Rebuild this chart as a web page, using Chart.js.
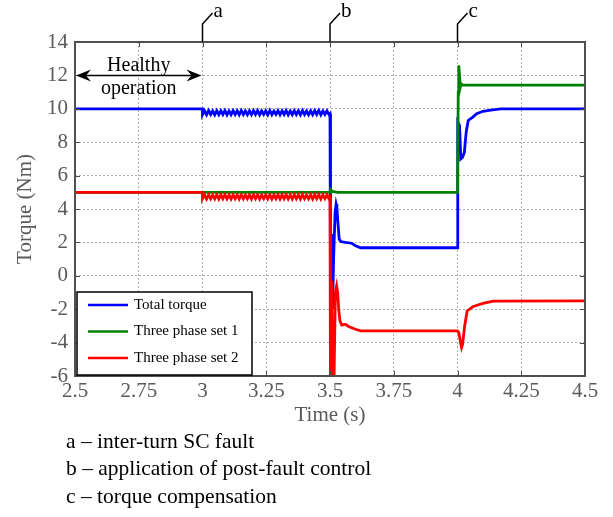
<!DOCTYPE html>
<html>
<head>
<meta charset="utf-8">
<script src="https://cdn.jsdelivr.net/npm/chart.js@4.4.1/dist/chart.umd.min.js"></script>
<style>
  html, body { margin: 0; background: #fff; }
  #wrap { width: 613px; height: 517px; }
</style>
</head>
<body>
<div id="wrap"><canvas id="torqueChart" width="613" height="517"></canvas></div>
<script>
// tick labels
const xTicks = [2.5, 2.75, 3, 3.25, 3.5, 3.75, 4, 4.25, 4.5];
const yTicks = [-6, -4, -2, 0, 2, 4, 6, 8, 10, 12, 14];

// events marked on top of the plot
const eventLabels = ["a", "b", "c"];
const eventTimes = [3, 3.5, 4];
const notes = [
  "a \u2013 inter-turn SC fault",
  "b \u2013 application of post-fault control",
  "c \u2013 torque compensation",
];
const seriesNames = ["Total torque", "Three phase set 1", "Three phase set 2"];

// ripple during the fault, 3.0 s .. 3.5 s
const rippleTime = [3.000,3.008,3.016,3.024,3.032,3.040,3.048,3.056,3.064,3.072,3.080,3.088,3.096,3.104,3.112,3.120,3.128,3.136,3.144,3.152,3.160,3.168,3.176,3.184,3.192,3.200,3.208,3.216,3.224,3.232,3.240,3.248,3.256,3.264,3.272,3.280,3.288,3.296,3.304,3.312,3.320,3.328,3.336,3.344,3.352,3.360,3.368,3.376,3.384,3.392,3.400,3.408,3.416,3.424,3.432,3.440,3.448,3.456,3.464,3.472,3.480,3.488,3.496];
const totalRipple = [9.65,9.88,9.64,9.90,9.66,9.87,9.64,9.89,9.65,9.88,9.66,9.90,9.64,9.87,9.65,9.89,9.66,9.88,9.64,9.90,9.66,9.87,9.64,9.88,9.65,9.89,9.66,9.90,9.64,9.87,9.66,9.88,9.64,9.90,9.65,9.87,9.66,9.89,9.64,9.88,9.66,9.90,9.64,9.87,9.65,9.89,9.66,9.88,9.64,9.90,9.66,9.87,9.64,9.88,9.65,9.89,9.66,9.90,9.64,9.87,9.66,9.88,9.65];
const set2Ripple = [4.62,4.85,4.60,4.86,4.62,4.84,4.61,4.86,4.60,4.85,4.62,4.86,4.61,4.84,4.60,4.86,4.62,4.85,4.60,4.86,4.62,4.84,4.61,4.85,4.60,4.86,4.62,4.86,4.60,4.84,4.62,4.85,4.61,4.86,4.60,4.84,4.62,4.86,4.60,4.85,4.62,4.86,4.61,4.84,4.60,4.86,4.62,4.85,4.60,4.86,4.62,4.84,4.61,4.85,4.60,4.86,4.62,4.86,4.60,4.84,4.62,4.85,4.61];

// total torque
const totalPreT = [2.5, 3.0];
const totalPre = [10, 10];
const totalPostT = [3.500,3.501,3.503,3.507,3.510,3.514,3.520,3.524,3.527,3.531,3.536,3.542,3.560,3.585,3.600,3.620,4.000,4.001,4.008,4.013,4.020,4.027,4.034,4.042,4.060,4.075,4.100,4.130,4.170,4.500];
const totalPost = [9.7,-0.3,1.0,2.5,-2.0,1.0,3.8,4.3,4.1,3.2,2.2,2.05,2.0,1.95,1.8,1.68,1.68,9.2,9.0,7.0,7.1,7.4,8.6,9.3,9.5,9.7,9.85,9.92,10.0,10.0];

// three phase set 1
const set1T = [2.5,3.500,3.503,3.510,3.530,4.000,4.003,4.005,4.008,4.011,4.014,4.020,4.500];
const set1 = [5.0,5.0,5.15,5.05,5.0,5.0,11.0,12.6,12.0,11.3,11.5,11.42,11.42];

// three phase set 2
const set2PreT = [2.5, 3.0];
const set2Pre = [5, 5];
const set2PostT = [3.500,3.502,3.505,3.507,3.511,3.515,3.521,3.526,3.530,3.534,3.539,3.546,3.560,3.575,3.600,3.620,4.000,4.005,4.012,4.016,4.020,4.028,4.038,4.048,4.060,4.080,4.100,4.140,4.500];
const set2Post = [4.7,-8,-8,-0.3,-8,-7,-1.0,-0.6,-1.0,-2.0,-2.7,-2.95,-2.9,-3.05,-3.2,-3.3,-3.3,-3.4,-4.0,-4.3,-4.1,-3.0,-2.1,-2.0,-1.85,-1.75,-1.65,-1.52,-1.5];

const colors = ["#0000ff", "#008000", "#ff0000"];
const serif = '"Liberation Serif", "Times New Roman", serif';
const axisGray = "#5a5a5a";

function toPoints(times, values) {
  return times.map((t, i) => ({ x: t, y: values[i] }));
}

const totalData = toPoints(totalPreT, totalPre)
  .concat(toPoints(rippleTime, totalRipple))
  .concat(toPoints(totalPostT, totalPost));
const set1Data = toPoints(set1T, set1);
const set2Data = toPoints(set2PreT, set2Pre)
  .concat(toPoints(rippleTime, set2Ripple))
  .concat(toPoints(set2PostT, set2Post));

function drawArrowHead(ctx, x, y, dir) {
  ctx.beginPath();
  ctx.moveTo(x, y);
  ctx.lineTo(x + dir * 15, y - 6);
  ctx.lineTo(x + dir * 10, y);
  ctx.lineTo(x + dir * 15, y + 6);
  ctx.closePath();
  ctx.fill();
}

const decorations = {
  id: "decorations",
  afterDraw(chart) {
    const { ctx, chartArea: a, scales } = chart;
    const xs = scales.x, ys = scales.y;
    ctx.save();

    // inward ticks
    ctx.strokeStyle = "#4d4d4d";
    ctx.lineWidth = 1;
    ctx.beginPath();
    xTicks.forEach((v) => {
      const px = Math.round(xs.getPixelForValue(v)) + 0.5;
      ctx.moveTo(px, a.bottom); ctx.lineTo(px, a.bottom - 5);
      ctx.moveTo(px, a.top); ctx.lineTo(px, a.top + 5);
    });
    yTicks.forEach((v) => {
      const py = Math.round(ys.getPixelForValue(v)) + 0.5;
      ctx.moveTo(a.left, py); ctx.lineTo(a.left + 5, py);
      ctx.moveTo(a.right, py); ctx.lineTo(a.right - 5, py);
    });
    ctx.stroke();

    // frame
    ctx.lineWidth = 2;
    ctx.strokeStyle = "#505050";
    ctx.strokeRect(a.left, a.top, a.right - a.left, a.bottom - a.top);

    // event markers
    ctx.strokeStyle = "#000";
    ctx.lineWidth = 1.5;
    ctx.fillStyle = "#000";
    ctx.font = "21px " + serif;
    ctx.textBaseline = "middle";
    ctx.textAlign = "left";
    eventTimes.forEach((t, i) => {
      const px = xs.getPixelForValue(t);
      ctx.beginPath();
      ctx.moveTo(px, a.top);
      ctx.lineTo(px, a.top - 18);
      ctx.lineTo(px + 10, a.top - 29);
      ctx.stroke();
      ctx.fillText(eventLabels[i], px + 11, a.top - 31);
    });

    // healthy operation arrow
    const x0 = xs.getPixelForValue(2.5), x1 = xs.getPixelForValue(3);
    const ay = ys.getPixelForValue(12);
    ctx.beginPath();
    ctx.moveTo(x0 + 8, ay);
    ctx.lineTo(x1 - 8, ay);
    ctx.stroke();
    drawArrowHead(ctx, x0 + 1, ay, 1);
    drawArrowHead(ctx, x1 - 1, ay, -1);
    ctx.font = "20px " + serif;
    ctx.textAlign = "center";
    ctx.fillText("Healthy", (x0 + x1) / 2, ay - 10);
    ctx.fillText("operation", (x0 + x1) / 2, ay + 13);

    // legend box
    const lx = 77, ly = 292, lw = 175, lh = 83;
    ctx.fillStyle = "#fff";
    ctx.fillRect(lx, ly, lw, lh);
    ctx.strokeStyle = "#000";
    ctx.lineWidth = 1.5;
    ctx.strokeRect(lx, ly, lw, lh);
    ctx.font = "15px " + serif;
    ctx.textAlign = "left";
    seriesNames.forEach((name, i) => {
      const ry = ly + 13 + i * 26.5;
      ctx.strokeStyle = colors[i];
      ctx.lineWidth = 2.5;
      ctx.beginPath();
      ctx.moveTo(lx + 11, ry);
      ctx.lineTo(lx + 51, ry);
      ctx.stroke();
      ctx.fillStyle = "#000";
      ctx.fillText(name, lx + 57, ry);
    });

    // axis titles
    ctx.fillStyle = axisGray;
    ctx.font = "21px " + serif;
    ctx.textAlign = "center";
    ctx.fillText("Time (s)", (a.left + a.right) / 2, a.bottom + 39);
    ctx.save();
    ctx.translate(25, (a.top + a.bottom) / 2);
    ctx.rotate(-Math.PI / 2);
    ctx.fillText("Torque (Nm)", 0, 0);
    ctx.restore();

    // notes under the chart
    ctx.fillStyle = "#000";
    ctx.textAlign = "left";
    ctx.font = "21.5px " + serif;
    notes.forEach((n, i) => {
      ctx.fillText(n, 66, a.bottom + 66 + i * 27.5);
    });
    ctx.restore();
  },
};

const tickFont = { family: serif, size: 21 };

new Chart(document.getElementById("torqueChart").getContext("2d"), {
  type: "line",
  data: {
    datasets: [
      { label: seriesNames[0], data: totalData, borderColor: colors[0], order: 2 },
      { label: seriesNames[1], data: set1Data, borderColor: colors[1], order: 1 },
      { label: seriesNames[2], data: set2Data, borderColor: colors[2], order: 0 },
    ],
  },
  options: {
    responsive: false,
    animation: false,
    layout: { padding: { top: 42, right: 28, left: 0, bottom: 0 } },
    elements: {
      point: { radius: 0 },
      line: { borderWidth: 2.8, tension: 0, fill: false },
    },
    plugins: {
      legend: { display: false },
      tooltip: { enabled: false },
    },
    scales: {
      x: {
        type: "linear",
        min: 2.5,
        max: 4.5,
        afterBuildTicks: (s) => { s.ticks = xTicks.map((v) => ({ value: v })); },
        afterFit: (s) => { s.height = 141; },
        grid: { color: "#b0b0b0", drawTicks: false },
        border: { display: false, dash: [2, 2] },
        ticks: {
          color: axisGray,
          font: tickFont,
          padding: 3,
          maxRotation: 0,
          autoSkip: false,
          callback: (v) => String(v),
        },
      },
      y: {
        min: -6,
        max: 14,
        afterBuildTicks: (s) => { s.ticks = yTicks.map((v) => ({ value: v })); },
        afterFit: (s) => { s.width = 75; },
        grid: { color: "#b0b0b0", drawTicks: false },
        border: { display: false, dash: [2, 2] },
        ticks: {
          color: axisGray,
          font: tickFont,
          padding: 7,
          autoSkip: false,
          callback: (v) => String(v),
        },
      },
    },
  },
  plugins: [decorations],
});
</script>
</body>
</html>
